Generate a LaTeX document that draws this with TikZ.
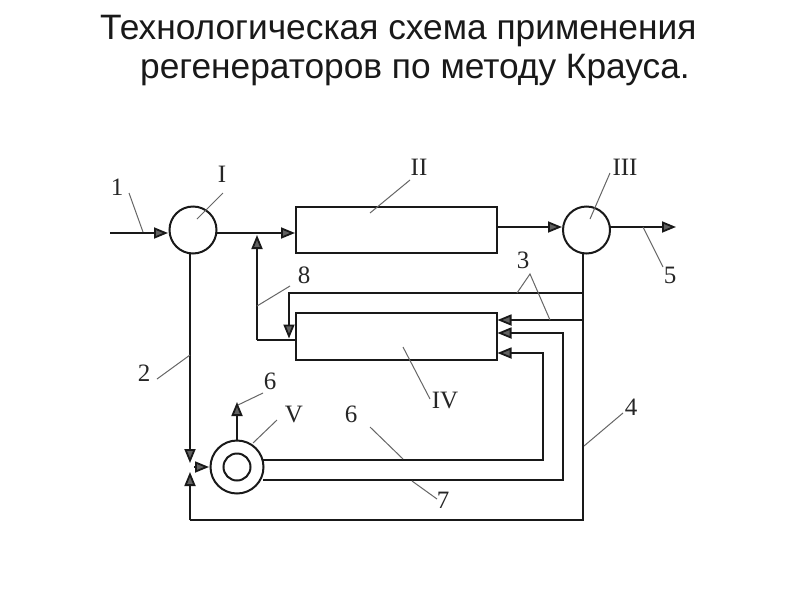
\documentclass[tikz,border=0pt]{standalone}
\usepackage{fontspec}
\setmainfont{Liberation Serif}
\newfontfamily\titlefont{Liberation Sans}
\usetikzlibrary{arrows.meta}
\definecolor{ink}{gray}{0.1}
\tikzset{
  x=1pt,y=-1pt,
  flow/.style={draw=ink,line width=1.8pt,line join=miter},
  arr/.style={flow,-{Triangle[length=14pt,width=11pt,fill=black!62]}},
  lead/.style={draw=black!60,line width=1pt},
  vessel/.style={circle,draw=ink,line width=2pt,minimum size=47pt,inner sep=0pt,fill=white},
  unit/.style={rectangle,draw=ink,line width=1.8pt,minimum width=201pt,minimum height=46.5pt,inner sep=0pt},
  lab/.style={font=\fontsize{25}{27}\selectfont,text=black!85,inner sep=0pt},
  ttl/.style={font=\titlefont\fontsize{35.3}{38}\selectfont,text=black!90,inner sep=0pt,anchor=base west}
}
\begin{document}
\begin{tikzpicture}
\useasboundingbox[fill=white] (0,0) rectangle (800,600);
\node[ttl] (t1) at (100,39) {Технологическая схема применения};
\node[ttl] (t2) at (140,78) {регенераторов по методу Крауса.};
% equipment
\node[vessel] (I) at (193,230) {};
\node[vessel] (III) at (586.5,230) {};
\node[unit] (II) at (396.5,230) {};
\node[unit] (IV) at (396.5,336.5) {};
\node[circle,draw=ink,line width=2pt,minimum size=53pt,inner sep=0pt] (V) at (237,467) {};
\node[circle,draw=ink,line width=2pt,minimum size=27pt,inner sep=0pt] (Vi) at (237,467) {};
% free ends
\coordinate (in) at (110,233);
\coordinate (iL) at (168,233);
\coordinate (iR) at (217,233);
\coordinate (iiL) at (295,233);
\coordinate (j8) at (257,235);
\coordinate (b8) at (257,340);
\coordinate (iv8) at (296,340);
\coordinate (iiR) at (497,227);
\coordinate (iiiL) at (562,227);
\coordinate (iiiR) at (610,227);
\coordinate (out) at (676,227);
\coordinate (d3) at (583,253);
\coordinate (corner4) at (583,520);
\coordinate (c4l) at (190,520);
\coordinate (t4) at (190,472);
\coordinate (d2a) at (190,253);
\coordinate (t2a) at (190,463);
\coordinate (m) at (194,467);
\coordinate (t5) at (209,467);
\coordinate (j3a) at (583,293);
\coordinate (c3a) at (289,293);
\coordinate (t3a) at (289,338.5);
\coordinate (j3b) at (583,320);
\coordinate (t3b) at (497.5,320);
\coordinate (v7) at (263,480);
\coordinate (c7) at (563,480);
\coordinate (u7) at (563,333);
\coordinate (t7) at (497.5,333);
\coordinate (v6) at (263,460);
\coordinate (c6) at (543,460);
\coordinate (u6) at (543,353);
\coordinate (t6) at (497.5,353);
\coordinate (vt) at (237,440);
\coordinate (t6b) at (237,402);
% connectors
\draw[arr] (in) -- (iL);
\draw[arr] (iR) -- (iiL);
\draw[arr] (b8) -- (j8);
\draw[flow] (iv8) -- (b8);
\draw[arr] (iiR) -- (iiiL);
\draw[arr] (iiiR) -- (out);
\draw[flow] (d3) -- (corner4) -- (c4l);
\draw[arr] (c4l) -- (t4);
\draw[arr] (d2a) -- (t2a);
\draw[arr] (m) -- (t5);
\draw[arr] (j3a) -- (c3a) -- (t3a);
\draw[arr] (j3b) -- (t3b);
\draw[arr] (v7) -- (c7) -- (u7) -- (t7);
\draw[arr] (v6) -- (c6) -- (u6) -- (t6);
\draw[arr] (vt) -- (t6b);
% leaders
\coordinate (l1a) at (129,193); \coordinate (l1b) at (143,232);
\coordinate (lIa) at (223,193); \coordinate (lIb) at (197,219);
\coordinate (lIIa) at (410,180); \coordinate (lIIb) at (370,213);
\coordinate (lIIIa) at (610,173); \coordinate (lIIIb) at (590,219);
\coordinate (l5a) at (643,227); \coordinate (l5b) at (663,267);
\coordinate (l3a) at (517,293); \coordinate (l3m) at (530,274); \coordinate (l3b) at (550,320);
\coordinate (l8a) at (290,286); \coordinate (l8b) at (257,306);
\coordinate (lIVa) at (403,347); \coordinate (lIVb) at (430,399);
\coordinate (l2a) at (157,379); \coordinate (l2b) at (190,355);
\coordinate (l6a) at (263,393); \coordinate (l6b) at (238,405);
\coordinate (lVa) at (277,420); \coordinate (lVb) at (253,443);
\coordinate (l6ca) at (370,427); \coordinate (l6cb) at (403,459);
\coordinate (l7a) at (412,481); \coordinate (l7b) at (437,499);
\coordinate (l4a) at (623,413); \coordinate (l4b) at (584,446);
\draw[lead] (l1a) -- (l1b);
\draw[lead] (lIa) -- (lIb);
\draw[lead] (lIIa) -- (lIIb);
\draw[lead] (lIIIa) -- (lIIIb);
\draw[lead] (l5a) -- (l5b);
\draw[lead] (l3a) -- (l3m) -- (l3b);
\draw[lead] (l8a) -- (l8b);
\draw[lead] (lIVa) -- (lIVb);
\draw[lead] (l2a) -- (l2b);
\draw[lead] (l6a) -- (l6b);
\draw[lead] (lVa) -- (lVb);
\draw[lead] (l6ca) -- (l6cb);
\draw[lead] (l7a) -- (l7b);
\draw[lead] (l4a) -- (l4b);
% labels
\node[lab] (n1) at (117,187) {1};
\node[lab] (nI) at (222,174) {I};
\node[lab] (nII) at (419,167) {II};
\node[lab] (nIII) at (625,167) {III};
\node[lab] (n8) at (304,275) {8};
\node[lab] (n3) at (523,260) {3};
\node[lab] (n5) at (670,275) {5};
\node[lab] (n2) at (144,373) {2};
\node[lab] (n6a) at (270,381) {6};
\node[lab] (nV) at (294,414) {V};
\node[lab] (n6b) at (351,414) {6};
\node[lab] (nIV) at (445,400) {IV};
\node[lab] (n4) at (631,407) {4};
\node[lab] (n7) at (443,500) {7};
\end{tikzpicture}
\end{document}
